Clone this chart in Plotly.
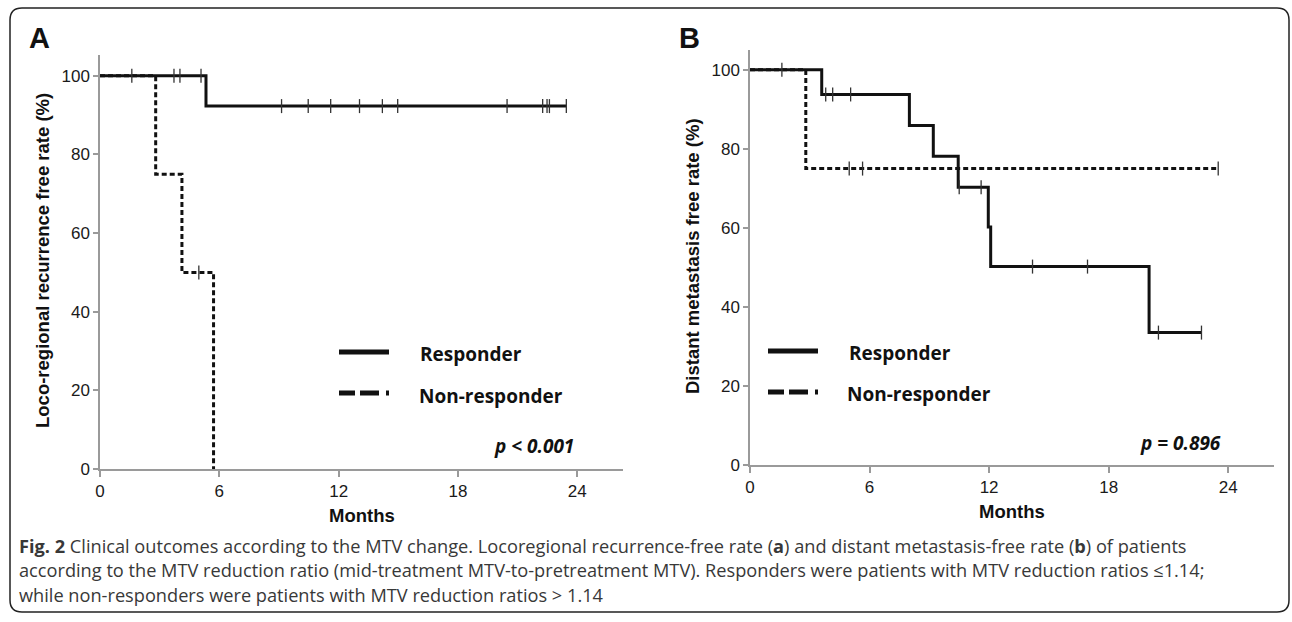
import plotly.graph_objects as go

# ---------------- data ----------------
# Panel A: loco-regional recurrence-free rate
a_resp_event_t = [5.33]
a_resp_event_s = [92.3]
a_resp_end = 23.45
a_resp_censor = [1.6, 3.72, 4.02, 5.08, 9.13, 10.47, 11.6, 13.05, 14.2, 14.97,
                 20.47, 22.26, 22.48, 22.6, 23.45]

a_non_event_t = [2.8, 4.12, 5.71]
a_non_event_s = [75.0, 50.0, 0.0]
a_non_end = 5.71
a_non_censor = [4.97]

# Panel B: distant metastasis-free rate
b_resp_event_t = [3.6, 8.0, 9.2, 10.45, 11.96, 12.08, 20.03]
b_resp_event_s = [93.75, 85.9, 78.1, 70.3, 60.2, 50.2, 33.5]
b_resp_end = 22.66
b_resp_censor = [1.6, 3.8, 4.15, 5.05, 10.5, 11.6, 14.18, 16.94, 20.5, 22.66]

b_non_event_t = [2.8]
b_non_event_s = [75.0]
b_non_end = 23.5
b_non_censor = [4.98, 5.65, 23.5]

x_ticks = [0, 6, 12, 18, 24]
y_ticks = [0, 20, 40, 60, 80, 100]

legend_labels = ["Responder", "Non-responder"]
p_texts = ["p < 0.001", "p = 0.896"]
y_titles = ["Loco-regional recurrence free rate (%)", "Distant metastasis free rate (%)"]
x_title = "Months"
panel_labels = ["A", "B"]
caption_lines = [
    "<b>Fig. 2</b> Clinical outcomes according to the MTV change. Locoregional recurrence-free rate (<b>a</b>) and distant metastasis-free rate (<b>b</b>) of patients",
    "according to the MTV reduction ratio (mid-treatment MTV-to-pretreatment MTV). Responders were patients with MTV reduction ratios ≤1.14;",
    "while non-responders were patients with MTV reduction ratios > 1.14",
]

# ---------------- helpers ----------------
W, H = 1292, 622


def px(x):
    return x / W


def py(y):
    return 1 - y / H


def km_xy(times, surv, t_end):
    xs = [0] + list(times) + [t_end]
    ys = [100] + list(surv) + [surv[-1]]
    return xs, ys


def surv_at(t, times, surv):
    level = 100.0
    for ti, si in zip(times, surv):
        if t >= ti - 1e-9:
            level = si
    return level


fig = go.Figure()

panels = [
    dict(xa="x", ya="y",
         resp=(a_resp_event_t, a_resp_event_s, a_resp_end, a_resp_censor),
         non=(a_non_event_t, a_non_event_s, a_non_end, a_non_censor)),
    dict(xa="x2", ya="y2",
         resp=(b_resp_event_t, b_resp_event_s, b_resp_end, b_resp_censor),
         non=(b_non_event_t, b_non_event_s, b_non_end, b_non_censor)),
]

LINE_COL = "#111111"
for p in panels:
    for key, dash in (("non", "5px,3px"), ("resp", "solid")):
        t, s, te, cens = p[key]
        xs, ys = km_xy(t, s, te)
        fig.add_trace(go.Scatter(
            x=xs, y=ys, mode="lines", line=dict(shape="hv", color=LINE_COL, width=3, dash=dash),
            xaxis=p["xa"], yaxis=p["ya"], showlegend=False, hoverinfo="skip"))
        fig.add_trace(go.Scatter(
            x=cens, y=[surv_at(c, t, s) for c in cens], mode="markers",
            marker=dict(symbol="line-ns", size=10, line=dict(color="#333333", width=1.3)),
            xaxis=p["xa"], yaxis=p["ya"], showlegend=False, hoverinfo="skip"))

AX_COL = "#9a9a9a"
tickfont = dict(family="Liberation Sans, Arial, sans-serif", size=17, color="#1a1a1a")
common_x = dict(range=[0, 26.3], tickvals=x_ticks, showline=True, linecolor=AX_COL, linewidth=2,
                ticks="outside", ticklen=6, tickwidth=1.5, tickcolor=AX_COL, showgrid=False,
                zeroline=False, tickfont=tickfont, fixedrange=True, automargin=False)
common_y = dict(tickvals=y_ticks, showline=True, linecolor=AX_COL, linewidth=1.5,
                ticks="outside", ticklen=5, tickwidth=1.5, tickcolor=AX_COL, showgrid=False,
                zeroline=False, tickfont=tickfont, fixedrange=True, automargin=False)

fig.update_layout(
    width=W, height=H, margin=dict(l=0, r=0, t=0, b=0, pad=0, autoexpand=False),
    paper_bgcolor="white", plot_bgcolor="white", showlegend=False,
    xaxis=dict(domain=[px(100), px(623)], anchor="y", **common_x),
    yaxis=dict(domain=[py(469), py(55)], range=[0, 105.3], anchor="x", **common_y),
    xaxis2=dict(domain=[px(750), px(1274)], anchor="y2", **common_x),
    yaxis2=dict(domain=[py(465), py(50)], range=[0, 105.0], anchor="x2", **common_y),
)

annotations = []
shapes = []

title_font = dict(family="Liberation Sans, Arial, sans-serif", size=18.5, color="#111111")
# y titles
for txt, (cx, cy) in zip(y_titles, [(42, 261), (692, 256)]):
    annotations.append(dict(text="<b>%s</b>" % txt, x=px(cx), y=py(cy), xref="paper", yref="paper",
                            textangle=-90, showarrow=False, xanchor="center", yanchor="middle",
                            font=title_font))
# x titles
for cx, cy in [(361.5, 515), (1012, 511)]:
    annotations.append(dict(text="<b>%s</b>" % x_title, x=px(cx), y=py(cy), xref="paper", yref="paper",
                            showarrow=False, xanchor="center", yanchor="middle", font=title_font))
# panel labels
for lab, (cx, cy) in zip(panel_labels, [(39.5, 37.5), (689, 38)]):
    annotations.append(dict(text="<b>%s</b>" % lab, x=px(cx), y=py(cy), xref="paper", yref="paper",
                            showarrow=False, xanchor="center", yanchor="middle",
                            font=dict(family="Liberation Sans, Arial, sans-serif", size=29, color="#111111")))

# legends
leg_font = dict(family="Open Sans, sans-serif", size=19, color="#111111")
for (lx0, ly_solid, ly_dash, tx, ty1, ty2) in [(339, 352, 393, 418, 354, 396),
                                                (768, 351, 392, 846.5, 353, 394)]:
    shapes.append(dict(type="line", xref="paper", yref="paper", x0=px(lx0), x1=px(lx0 + 50),
                       y0=py(ly_solid), y1=py(ly_solid), line=dict(color="#111111", width=5)))
    shapes.append(dict(type="line", xref="paper", yref="paper", x0=px(lx0), x1=px(lx0 + 50),
                       y0=py(ly_dash), y1=py(ly_dash),
                       line=dict(color="#111111", width=5, dash="16px,5px,19px,7px,3px")))
    annotations.append(dict(text="<b>%s</b>" % legend_labels[0], x=px(tx), y=py(ty1), xref="paper",
                            yref="paper", showarrow=False, xanchor="left", yanchor="middle", font=leg_font))
    annotations.append(dict(text="<b>%s</b>" % legend_labels[1], x=px(tx - 1.5), y=py(ty2), xref="paper",
                            yref="paper", showarrow=False, xanchor="left", yanchor="middle", font=leg_font))

# p values
for txt, (cx, cy) in zip(p_texts, [(534, 446), (1180, 443)]):
    annotations.append(dict(text="<b><i>%s</i></b>" % txt, x=px(cx), y=py(cy), xref="paper", yref="paper",
                            showarrow=False, xanchor="center", yanchor="middle",
                            font=dict(family="Open Sans, sans-serif", size=19, color="#111111")))

# caption
for i, line in enumerate(caption_lines):
    annotations.append(dict(text=line, x=px(17), y=py(545.5 + i * 24.5), xref="paper", yref="paper",
                            showarrow=False, xanchor="left", yanchor="middle",
                            font=dict(family="Open Sans, sans-serif", size=18.2, color="#383838")))

# rounded border
x0, y0, x1, y1, r = px(10), py(8), px(1289), py(612), 12
rx, ry = r / W, r / H
path = (f"M {x0 + rx},{y0} L {x1 - rx},{y0} Q {x1},{y0} {x1},{y0 - ry} "
        f"L {x1},{y1 + ry} Q {x1},{y1} {x1 - rx},{y1} "
        f"L {x0 + rx},{y1} Q {x0},{y1} {x0},{y1 + ry} "
        f"L {x0},{y0 - ry} Q {x0},{y0} {x0 + rx},{y0} Z")
shapes.append(dict(type="path", xref="paper", yref="paper", path=path,
                   line=dict(color="#222222", width=1.5)))

fig.update_layout(annotations=annotations, shapes=shapes)

fig.write_html("out.html", config={"displayModeBar": False},
               post_script="document.body.style.margin='0';document.body.style.overflow='hidden';")
